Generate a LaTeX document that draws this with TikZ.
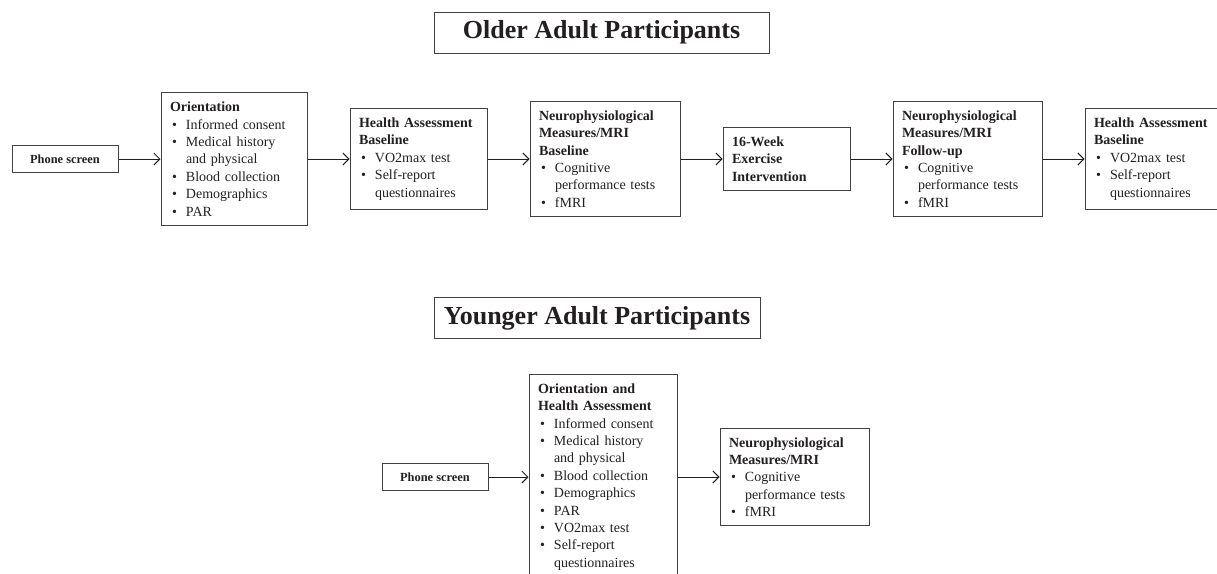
\documentclass[tikz,border=0pt]{standalone}
\usepackage{fontspec}
\setmainfont{Liberation Serif}
\usetikzlibrary{arrows.meta,positioning}
\definecolor{inkgray}{HTML}{231F20}
\newcommand{\itm}[1]{\makebox[16pt][l]{\hspace{2pt}\textbullet}#1}
\newcommand{\cnt}[1]{\hspace*{16pt}#1}

\begin{document}
\begin{tikzpicture}[
  x=1pt, y=-1pt,
  font=\fontsize{14}{17.4}\selectfont,
  every node/.style={text=inkgray},
  node distance=1.0cm and 42pt,
  box/.style={draw=inkgray!85, line width=1pt, align=left, inner xsep=9pt, inner ysep=9pt},
  phone/.style={draw=inkgray!85, line width=1pt, font=\fontsize{12.4}{15}\selectfont\bfseries, minimum width=106pt, minimum height=27pt, inner sep=0pt},
  title/.style={draw=inkgray!85, line width=1pt, font=\fontsize{26}{30}\selectfont\bfseries, inner sep=0pt, minimum height=41pt},
  arr/.style={-{Straight Barb[length=6pt,width=12pt]}, line width=0.9pt, draw=inkgray}
]
\useasboundingbox (0,0) rectangle (1217,573);
\clip (0,0) rectangle (1217,573);

% older adults
\node[title, minimum width=335pt] (oldtitle) at (601.5,32.5) {Older Adult Participants};
\node[phone] (oldphone) at (65,159) {Phone screen};
\node[box, text width=128pt, right=of oldphone] (oldorient) {\textbf{Orientation}\\
\itm{Informed consent}\\ \itm{Medical history}\\ \cnt{and physical}\\
\itm{Blood collection}\\ \itm{Demographics}\\ \itm{PAR}};
\node[box, text width=119pt, right=of oldorient] (oldhealth) {\textbf{Health Assessment}\\ \textbf{Baseline}\\
\itm{VO2max test}\\ \itm{Self-report}\\ \cnt{questionnaires}};
\node[box, text width=132pt, right=of oldhealth] (oldneuro) {\textbf{Neurophysiological}\\ \textbf{Measures/MRI}\\ \textbf{Baseline}\\
\itm{Cognitive}\\ \cnt{performance tests}\\ \itm{fMRI}};
\node[box, text width=109pt, right=of oldneuro] (oldexercise) {\textbf{16-Week}\\ \textbf{Exercise}\\ \textbf{Intervention}};
\node[box, text width=131pt, right=of oldexercise] (oldfollow) {\textbf{Neurophysiological}\\ \textbf{Measures/MRI}\\ \textbf{Follow-up}\\
\itm{Cognitive}\\ \cnt{performance tests}\\ \itm{fMRI}};
\node[box, text width=119pt, right=of oldfollow] (oldhealthend) {\textbf{Health Assessment}\\ \textbf{Baseline}\\
\itm{VO2max test}\\ \itm{Self-report}\\ \cnt{questionnaires}};

\draw[arr] (oldphone) -- (oldorient);
\draw[arr] (oldorient) -- (oldhealth);
\draw[arr] (oldhealth) -- (oldneuro);
\draw[arr] (oldneuro) -- (oldexercise);
\draw[arr] (oldexercise) -- (oldfollow);
\draw[arr] (oldfollow) -- (oldhealthend);

% younger adults
\node[title, minimum width=326pt] (youngtitle) at (597,318) {Younger Adult Participants};
\node[phone] (youngphone) at (435,477) {Phone screen};
\node[box, text width=130pt, right=40pt of youngphone] (youngorient) {\textbf{Orientation and}\\ \textbf{Health Assessment}\\
\itm{Informed consent}\\ \itm{Medical history}\\ \cnt{and physical}\\
\itm{Blood collection}\\ \itm{Demographics}\\ \itm{PAR}\\ \itm{VO2max test}\\ \itm{Self-report}\\ \cnt{questionnaires}};
\node[box, text width=131pt, right=of youngorient] (youngneuro) {\textbf{Neurophysiological}\\ \textbf{Measures/MRI}\\
\itm{Cognitive}\\ \cnt{performance tests}\\ \itm{fMRI}};

\draw[arr] (youngphone) -- (youngorient);
\draw[arr] (youngorient) -- (youngneuro);
\end{tikzpicture}
\end{document}
